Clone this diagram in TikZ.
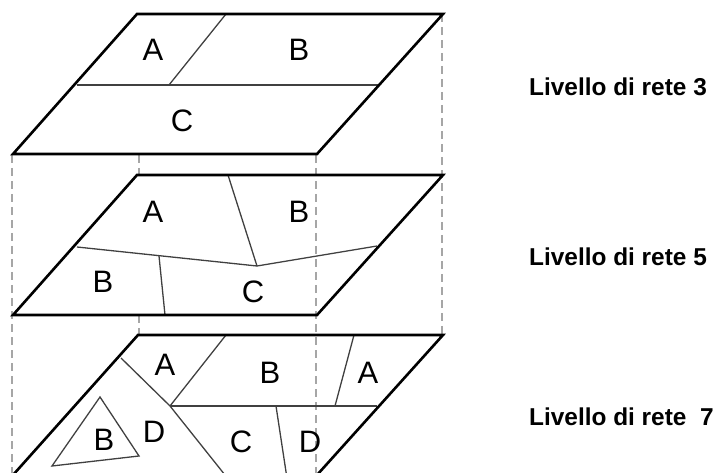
\documentclass[tikz,border=0pt]{standalone}
\usepackage{fontspec}
\setmainfont{Liberation Sans}
\begin{document}
\begin{tikzpicture}[x=1pt,y=-1pt,
  outer/.style={line width=2.6pt,black,line join=miter},
  inner/.style={line width=1.3pt,black!75},
  guide/.style={line width=1.2pt,black!35,dash pattern=on 8pt off 5pt},
  lbl/.style={inner sep=0pt,font=\fontsize{31}{31}\selectfont},
  lvl/.style={inner sep=0pt,anchor=west,font=\fontsize{24.4}{24.4}\selectfont\bfseries}]
\useasboundingbox (0,0) rectangle (718,473);
\clip (0,0) rectangle (718,473);
% guides
\draw[guide] (12,155) -- (12,473);
\draw[guide] (139,155) -- (139,175);
\draw[guide] (139,315) -- (139,335);
\draw[guide] (316,155) -- (316,473);
\draw[guide] (442,14) -- (442,335);
% plane 1
\draw[inner] (77,85) -- (378,85);
\draw[inner] (226,14) -- (169,85);
\draw[outer] (137,14) -- (443,14) -- (317,154) -- (13,154) -- cycle;
\node[lbl] (a1) at (153,50) {A};
\node[lbl] (b1) at (299,50) {B};
\node[lbl] (c1) at (182,121) {C};
% plane 2
\draw[inner] (77,247) -- (257,266) -- (377,246);
\draw[inner] (228,175) -- (257,266);
\draw[inner] (159,256) -- (165,315);
\draw[outer] (137,175) -- (443,175) -- (317,315) -- (13,315) -- cycle;
\node[lbl] (a2) at (153,212) {A};
\node[lbl] (b2) at (299,212) {B};
\node[lbl] (b2b) at (103,282) {B};
\node[lbl] (c2) at (253,292) {C};
% plane 3
\draw[inner] (121,358) -- (170,406) -- (225,475);
\draw[inner] (226,335) -- (170,406);
\draw[inner] (170,406) -- (377,406);
\draw[inner] (354,335) -- (335,406);
\draw[inner] (276,406) -- (286.5,475);
\draw[inner] (100,397) -- (139,456) -- (52,466) -- cycle;
\draw[outer] (138,335) -- (443,335) -- (317,475) -- (13,475) -- cycle;
\node[lbl] (a3) at (165,365) {A};
\node[lbl] (b3) at (270,373) {B};
\node[lbl] (a3b) at (368,373) {A};
\node[lbl] (b3b) at (104,440) {B};
\node[lbl] (d3) at (154,432) {D};
\node[lbl] (c3) at (241,442) {C};
\node[lbl] (d3b) at (310,442) {D};
% level labels
\node[lvl] (l3) at (529,87) {Livello di rete 3};
\node[lvl] (l5) at (529,257) {Livello di rete 5};
\node[lvl] (l7) at (529,417) {Livello di rete~~7};
\end{tikzpicture}
\end{document}
